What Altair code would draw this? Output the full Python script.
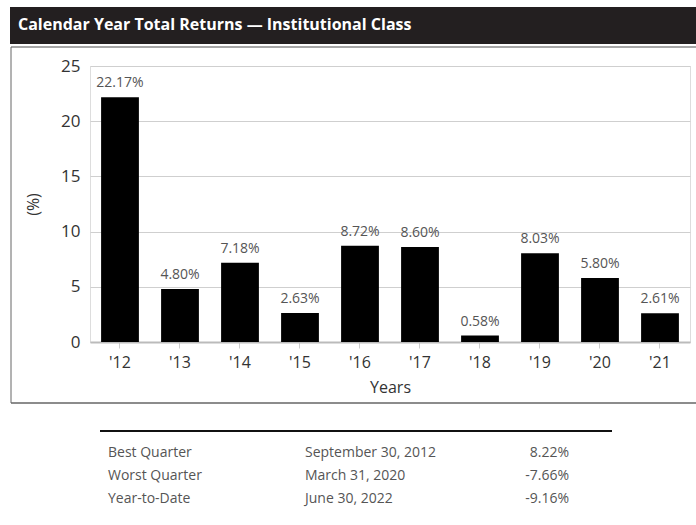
import altair as alt
import pandas as pd

years = ["'12", "'13", "'14", "'15", "'16", "'17", "'18", "'19", "'20", "'21"]
returns = [22.17, 4.80, 7.18, 2.63, 8.72, 8.60, 0.58, 8.03, 5.80, 2.61]

row_labels = ["Best Quarter", "Worst Quarter", "Year-to-Date"]
row_dates = ["September 30, 2012", "March 31, 2020", "June 30, 2022"]
row_values = ["8.22%", "-7.66%", "-9.16%"]

title_text = "Calendar Year Total Returns \u2014 Institutional Class"

FONT = "Open Sans"

df = pd.DataFrame({"year": years, "ret": returns})
df["label"] = [f"{v:.2f}%" for v in returns]

tbl = pd.DataFrame({"row": [0, 1, 2], "lab": row_labels, "date": row_dates, "val": row_values})

W, H = 600, 276

xenc = alt.X(
    "year:N", sort=years, title="Years",
    scale=alt.Scale(paddingInner=0.37, paddingOuter=0.185),
    axis=alt.Axis(labelAngle=0, labelFontSize=16, labelColor="#333", labelFont=FONT,
                  labelPadding=6, domainColor="#bbb", domainWidth=2, tickColor="#ccc",
                  tickSize=6, tickWidth=1, titleFontSize=16, titleFont=FONT,
                  titleFontWeight="normal", titleColor="#333", titlePadding=9),
)
yscale = alt.Scale(domain=[0, 25], nice=False)
yenc = alt.Y(
    "ret:Q", title="(%)",
    scale=yscale,
    axis=alt.Axis(values=[0, 5, 10, 15, 20, 25], ticks=False, domain=False, grid=True,
                  gridColor="#cfcfcf", gridWidth=1, labelFontSize=17, labelColor="#333",
                  labelFont=FONT, labelPadding=10, titleFontSize=16, titleFont=FONT,
                  titleFontWeight="normal", titleColor="#333", titleX=-57, titleY=H / 2,
                  titleAngle=270, titleBaseline="middle", titleAlign="center"),
)

base = alt.Chart(df)
bars = base.mark_bar(color="black").encode(x=xenc, y=yenc)
labels = base.mark_text(baseline="bottom", dy=-7, fontSize=14, color="#555", font=FONT).encode(
    x=alt.X("year:N", sort=years), y=alt.Y("ret:Q", scale=yscale), text="label:N")
barlayer = alt.layer(bars, labels)

deco = pd.DataFrame({"k": [0]})
band = alt.Chart(deco).mark_rect(color="#231f20").encode(
    x=alt.value(-80), x2=alt.value(606), y=alt.value(-59), y2=alt.value(-22))
title = alt.Chart(deco).mark_text(text=title_text, align="left", baseline="middle",
                                  fontSize=16, fontWeight="bold", color="white", font=FONT).encode(
    x=alt.value(-72), y=alt.value(-41))
topline = alt.Chart(deco).mark_rule(color="#888", strokeWidth=1.5).encode(
    x=alt.value(-79), x2=alt.value(606), y=alt.value(-19))
leftline = alt.Chart(deco).mark_rule(color="#666", strokeWidth=1).encode(
    x=alt.value(-79), y=alt.value(-19), y2=alt.value(337))
botline = alt.Chart(deco).mark_rule(color="#666", strokeWidth=1.5).encode(
    x=alt.value(-79), x2=alt.value(606), y=alt.value(337))
tblline = alt.Chart(deco).mark_rule(color="#111", strokeWidth=2).encode(
    x=alt.value(10), x2=alt.value(522), y=alt.value(365))

ty = alt.Y("row:O", scale=alt.Scale(type="point", domain=[0, 1, 2], range=[387, 433], padding=0), axis=None)
tcol1 = alt.Chart(tbl).mark_text(align="left", baseline="middle", fontSize=14, color="#555", font=FONT).encode(
    x=alt.value(18), y=ty, text="lab:N")
tcol2 = alt.Chart(tbl).mark_text(align="left", baseline="middle", fontSize=14, color="#555", font=FONT).encode(
    x=alt.value(215), y=ty, text="date:N")
tcol3 = alt.Chart(tbl).mark_text(align="right", baseline="middle", fontSize=14, color="#555", font=FONT).encode(
    x=alt.value(479), y=ty, text="val:N")
tablelayer = alt.layer(tcol1, tcol2, tcol3)

chart = alt.layer(band, title, topline, leftline, botline, tblline, barlayer, tablelayer).resolve_scale(
    y="independent"
).properties(
    width=W, height=H,
    autosize=alt.AutoSizeParams(type="none"),
    padding={"left": 90, "top": 66, "right": 6, "bottom": 183},
).configure_view(stroke=None).configure(background="white")

chart.save("out.html", embed_options={"renderer": "svg", "actions": False})
